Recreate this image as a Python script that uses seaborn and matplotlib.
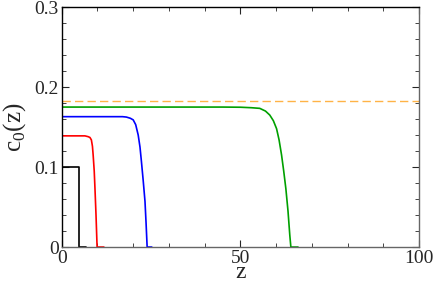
import pandas as pd
import matplotlib
matplotlib.use('Agg')
import matplotlib.pyplot as plt
import seaborn as sns
from matplotlib.ticker import MultipleLocator

# perfis c0(z)
z_black = [0, 4.9, 4.9, 6.7]
c_black = [0.1, 0.1, 0.0, 0.0]

z_red = [0, 6.5, 7.4, 7.9, 8.3, 8.6, 8.8, 9.1, 9.3, 9.6, 9.9, 11.8]
c_red = [0.139, 0.139, 0.138, 0.137, 0.134, 0.126, 0.115, 0.095, 0.074, 0.04, 0.0, 0.0]

z_blue = [0, 17.0, 18.1, 19.2, 20.0, 20.7, 21.4, 21.9, 22.3, 22.8, 23.3, 23.6, 23.9, 25.2]
c_blue = [0.163, 0.163, 0.1625, 0.161, 0.159, 0.153, 0.140, 0.125, 0.107, 0.083, 0.057, 0.03, 0.0, 0.0]

z_green = [0, 45.0, 50.0, 53.0, 55.4, 57.0, 58.2, 59.2, 60.1, 60.8, 61.5, 62.1, 62.7, 63.3, 63.8, 64.1, 66.1]
c_green = [0.175, 0.175, 0.1748, 0.1742, 0.1734, 0.170, 0.165, 0.158, 0.148, 0.134, 0.115, 0.095,
           0.073, 0.045, 0.015, 0.0, 0.0]

c_ref = 0.1825

curvas = {'black': (z_black, c_black), 'red': (z_red, c_red),
          'blue': (z_blue, c_blue), 'green': (z_green, c_green)}
paleta = {'black': '#000000', 'red': '#ff0000', 'blue': '#0000ff', 'green': '#00a000'}

sns.set_style('ticks')
plt.rcParams['font.family'] = ['Liberation Serif', 'DejaVu Serif']
plt.rcParams['mathtext.fontset'] = 'custom'
plt.rcParams['mathtext.rm'] = 'Liberation Serif'

fig = plt.figure(figsize=(4.36, 2.83), dpi=100)
ax = fig.add_axes([0.1415, 0.127, 0.82, 0.848])

for nome, (zs, cs) in curvas.items():
    sub = pd.DataFrame({'z': zs, 'c': cs})
    sns.lineplot(data=sub, x='z', y='c', color=paleta[nome], sort=False,
                 estimator=None, lw=1.2, ax=ax)

ax.axhline(c_ref, color='#ffb347', lw=1.0, dashes=(6, 3))

ax.set_xlim(0, 100)
ax.set_ylim(0, 0.3)
ax.xaxis.set_major_locator(MultipleLocator(50))
ax.xaxis.set_minor_locator(MultipleLocator(10))
ax.yaxis.set_major_locator(MultipleLocator(0.1))
ax.yaxis.set_minor_locator(MultipleLocator(0.02))
ax.set_xticks([0, 50, 100])
ax.set_xticklabels(['0', '50', '100'])
ax.set_yticks([0, 0.1, 0.2, 0.3])
ax.set_yticklabels(['0', '0.1', '0.2', '0.3'])
ax.tick_params(which='both', direction='in', top=True, right=True, labelsize=14)
ax.tick_params(axis='x', pad=2)
ax.tick_params(axis='y', pad=2)
ax.tick_params(which='major', length=5)
ax.tick_params(which='minor', length=3)

for s in ['top', 'left']:
    ax.spines[s].set_color('black')
for s in ['bottom', 'right']:
    ax.spines[s].set_color('#666666')
for s in ax.spines.values():
    s.set_linewidth(1.0)

ax.set_xlabel('z', fontsize=17, va='baseline')
ax.xaxis.set_label_coords(0.5, -0.129)
ax.set_ylabel(r'c$_0$(z)', fontsize=18, labelpad=5)

fig.savefig('out.png', dpi=100)
